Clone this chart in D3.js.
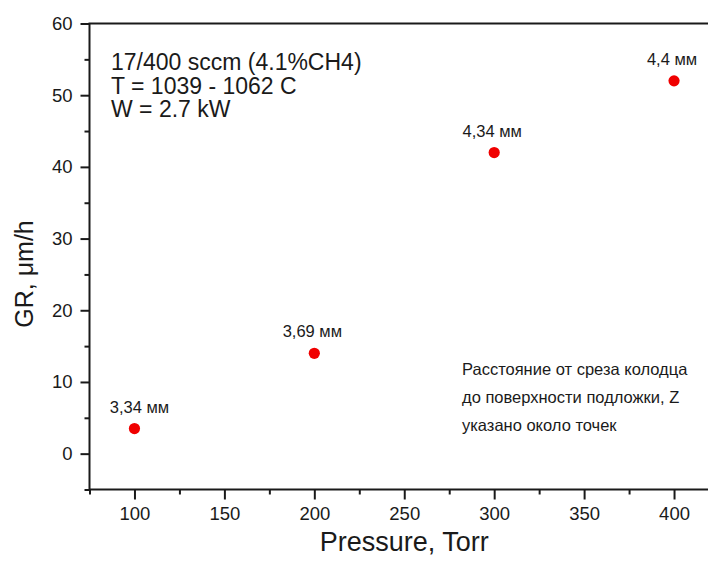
<!DOCTYPE html>
<html>
<head>
<meta charset="utf-8">
<script src="https://cdn.jsdelivr.net/npm/d3@7"></script>
<style>
  body { margin: 0; background: #fff; overflow: hidden; }
  text { font-family: "Liberation Sans", Arial, sans-serif; fill: #1a1a1a; }
  .axis path, .axis line { stroke: #1a1a1a; stroke-width: 2; }
</style>
</head>
<body>
<svg width="708" height="562"></svg>
<script>
// data
var pressure = [100, 200, 300, 400];
var growth = [3.5, 14, 42, 52];
var zLabels = ["3,34 мм", "3,69 мм", "4,34 мм", "4,4 мм"];
var labelShift = [5, -2, -2, -2];
var xMajor = [100, 150, 200, 250, 300, 350, 400];
var xMinor = [75, 125, 175, 225, 275, 325, 375, 425];
var yMajor = [0, 10, 20, 30, 40, 50, 60];
var yMinor = [-5, 5, 15, 25, 35, 45, 55];
var infoLines = ["17/400 sccm (4.1%CH4)", "T = 1039 - 1062 C", "W = 2.7 kW"];
var noteLines = ["Расстояние от среза колодца", "до поверхности подложки, Z", "указано около точек"];

var svg = d3.select("svg");
var plotL = 89.5, plotT = 23.5, plotR = 719, plotB = 489.5;

var x = d3.scaleLinear().domain([75, 425]).range([plotL, plotR]);
var y = d3.scaleLinear().domain([-5, 60]).range([plotB, plotT]);

// frame (right side falls outside the window)
svg.append("rect")
  .attr("x", plotL).attr("y", plotT)
  .attr("width", plotR - plotL).attr("height", plotB - plotT)
  .attr("fill", "none").attr("stroke", "#1a1a1a").attr("stroke-width", 2);

var gx = svg.append("g").attr("class", "axis").attr("transform", "translate(0," + plotB + ")");
gx.call(d3.axisBottom(x).tickValues(xMajor).tickSize(10).tickPadding(7).tickFormat(d3.format("d")));
gx.append("g").call(d3.axisBottom(x).tickValues(xMinor).tickSize(5).tickFormat(""));

var gy = svg.append("g").attr("class", "axis").attr("transform", "translate(" + plotL + ",0)");
gy.call(d3.axisLeft(y).tickValues(yMajor).tickSize(9).tickPadding(8).tickFormat(d3.format("d")));
gy.append("g").call(d3.axisLeft(y).tickValues(yMinor).tickSize(5).tickFormat(""));

svg.selectAll(".axis .domain").remove();
svg.selectAll(".axis text").attr("font-size", 18.5).attr("fill", "#1a1a1a")
  .attr("font-family", "Liberation Sans, Arial, sans-serif");

// axis titles
svg.append("text")
  .attr("x", (plotL + plotR) / 2).attr("y", 551)
  .attr("text-anchor", "middle").attr("font-size", 27)
  .text("Pressure, Torr");

svg.append("text")
  .attr("transform", "translate(33," + 274 + ") rotate(-90)")
  .attr("text-anchor", "middle").attr("font-size", 25)
  .text("GR, μm/h");

// points
var pts = pressure.map(function(p, i) {
  return { p: p, g: growth[i], label: zLabels[i], dx: labelShift[i] };
});

svg.selectAll("circle.pt")
  .data(pts)
  .enter().append("circle")
    .attr("class", "pt")
    .attr("cx", function(d) { return x(d.p); })
    .attr("cy", function(d) { return y(d.g); })
    .attr("r", 5.6)
    .attr("fill", "#f00000");

svg.selectAll("text.lbl")
  .data(pts)
  .enter().append("text")
    .attr("class", "lbl")
    .attr("x", function(d) { return x(d.p) + d.dx; })
    .attr("y", function(d) { return y(d.g) - 16; })
    .attr("text-anchor", "middle")
    .attr("font-size", 16.5)
    .text(function(d) { return d.label; });

// annotations
svg.append("g").selectAll("text")
  .data(infoLines)
  .enter().append("text")
    .attr("x", 111)
    .attr("y", function(d, i) { return 70 + i * 23.5; })
    .attr("font-size", 23)
    .text(function(d) { return d; });

svg.append("g").selectAll("text")
  .data(noteLines)
  .enter().append("text")
    .attr("x", 462)
    .attr("y", function(d, i) { return 375 + i * 28; })
    .attr("font-size", 16.5)
    .text(function(d) { return d; });
</script>
</body>
</html>
